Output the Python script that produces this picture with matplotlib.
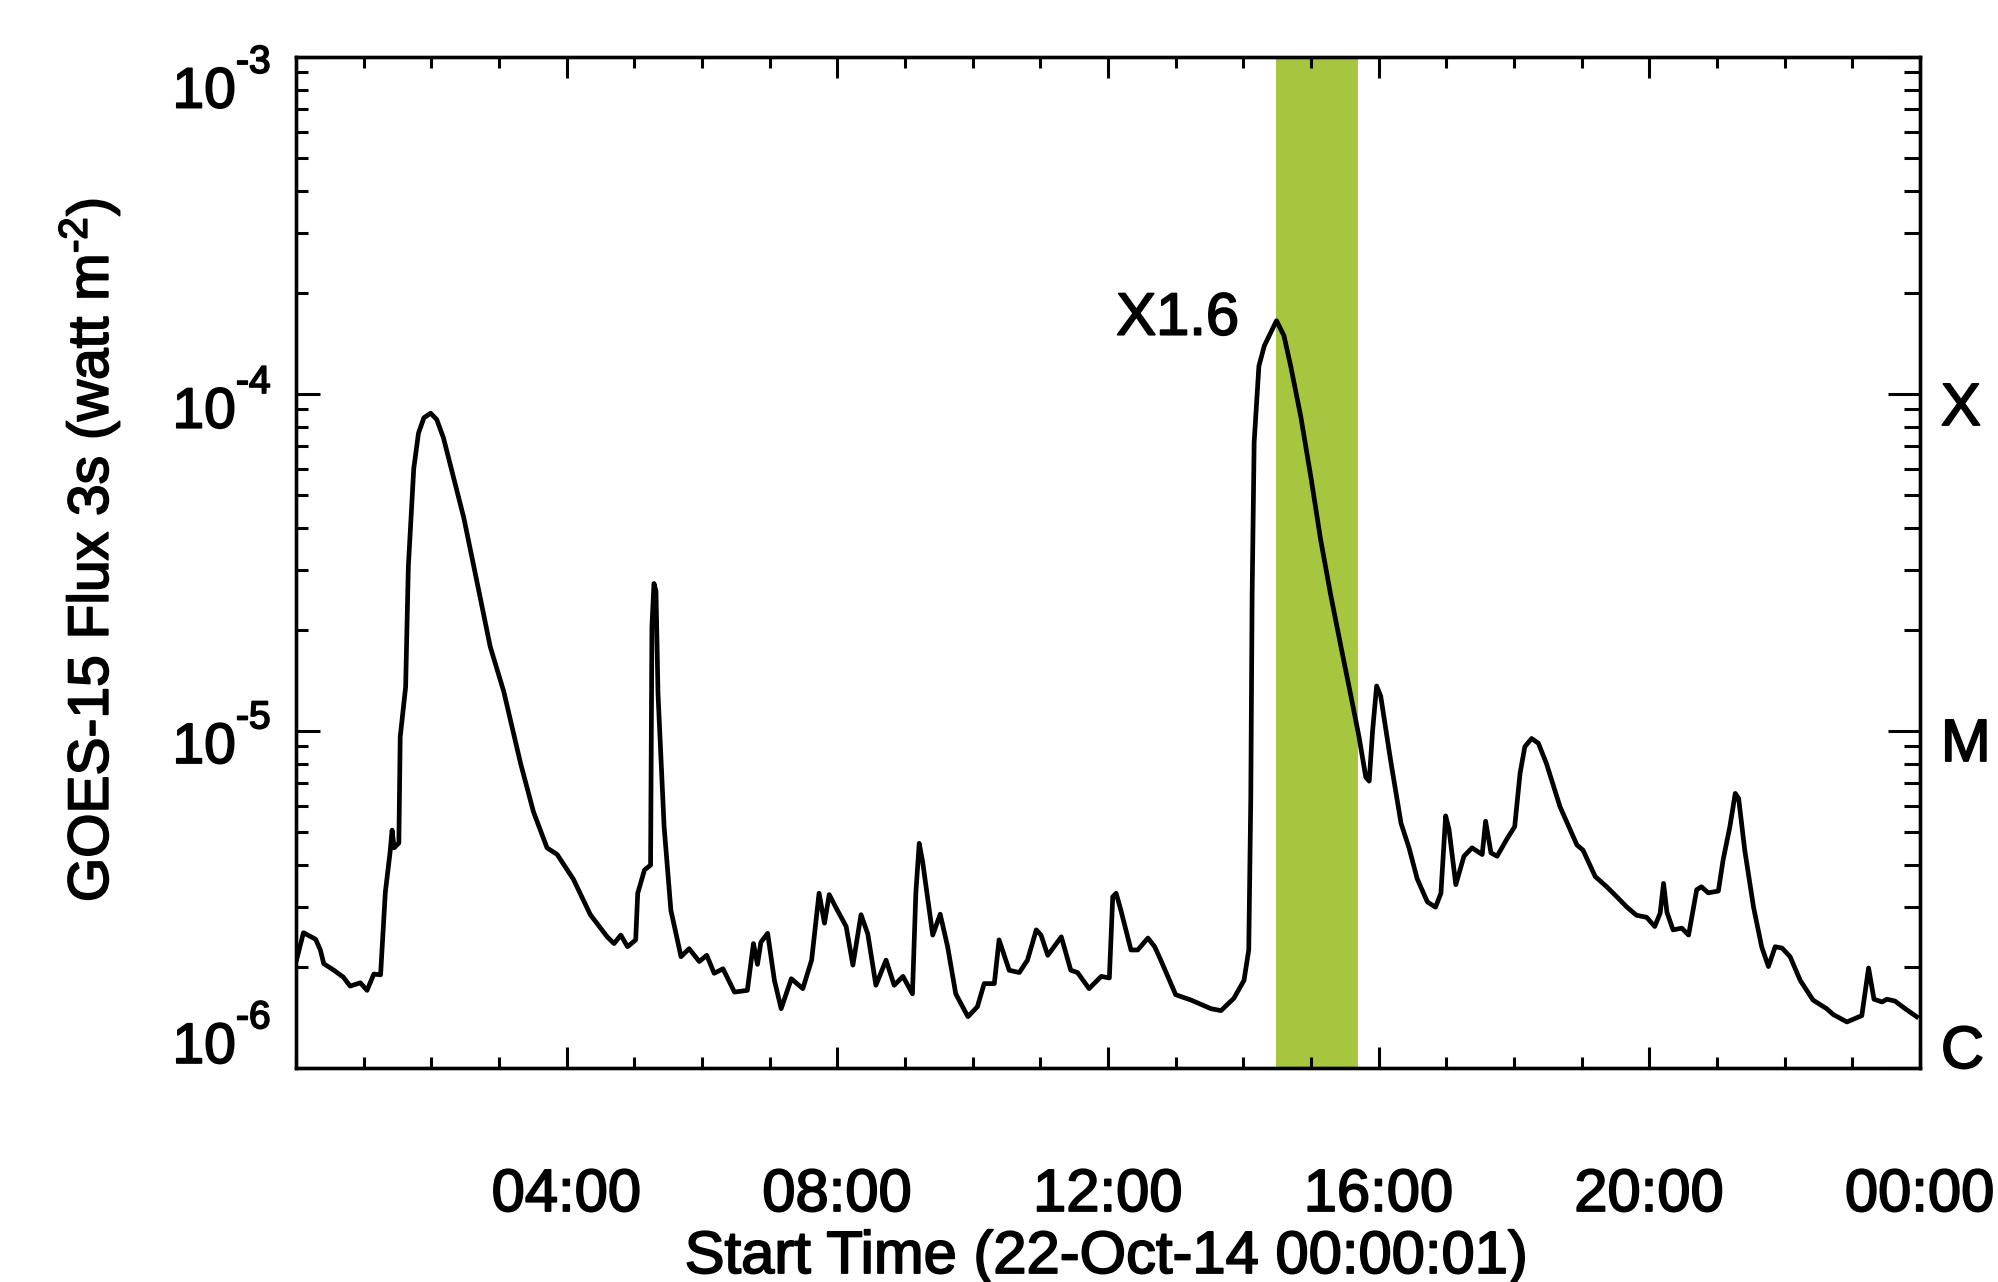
import matplotlib
matplotlib.use("Agg")
import matplotlib.pyplot as plt
import matplotlib.patheffects as pe
from matplotlib.ticker import LogLocator, NullFormatter, FixedLocator
from matplotlib.transforms import blended_transform_factory, ScaledTranslation

plt.rcParams['font.family'] = ['Liberation Sans', 'DejaVu Sans']
plt.rcParams['mathtext.fontset'] = 'custom'
plt.rcParams['mathtext.rm'] = 'Liberation Sans'
plt.rcParams['mathtext.it'] = 'Liberation Sans:italic'
plt.rcParams['mathtext.bf'] = 'Liberation Sans:bold'

# ---- data (hours since 22-Oct-14 00:00:01, GOES-15 flux in W m^-2) ----
hours = [0.01, 0.11, 0.29, 0.36, 0.41, 0.56, 0.70, 0.80, 0.95, 1.05, 1.15, 1.25,
         1.32, 1.39, 1.42, 1.45, 1.52, 1.54, 1.62, 1.66, 1.74, 1.81, 1.89, 1.99,
         2.08, 2.18, 2.33, 2.48, 2.67, 2.87, 3.07, 3.32, 3.51, 3.71, 3.86, 4.10,
         4.35, 4.60, 4.70, 4.80, 4.90, 5.02, 5.05, 5.15, 5.24, 5.26, 5.29, 5.32,
         5.35, 5.44, 5.54, 5.69, 5.81, 5.96, 6.07, 6.18, 6.31, 6.48, 6.67, 6.76,
         6.82, 6.87, 6.97, 7.07, 7.17, 7.32, 7.49, 7.62, 7.73, 7.81, 7.88, 8.00,
         8.13, 8.23, 8.35, 8.45, 8.57, 8.72, 8.84, 8.97, 9.11, 9.16, 9.21, 9.26,
         9.41, 9.52, 9.63, 9.75, 9.93, 10.07, 10.17, 10.32, 10.39, 10.54, 10.69,
         10.81, 10.94, 11.01, 11.11, 11.31, 11.45, 11.55, 11.72, 11.90, 12.02,
         12.07, 12.12, 12.19, 12.34, 12.44, 12.59, 12.69, 12.78, 13.00, 13.23,
         13.52, 13.67, 13.86, 14.01, 14.08, 14.11, 14.13, 14.16, 14.23, 14.31,
         14.49, 14.60, 14.70, 14.85, 15.00, 15.14, 15.29, 15.44, 15.59, 15.71,
         15.81, 15.86, 15.91, 15.97, 16.03, 16.18, 16.33, 16.45, 16.57, 16.72,
         16.84, 16.92, 16.99, 17.04, 17.14, 17.26, 17.38, 17.53, 17.58, 17.66,
         17.75, 17.90, 18.01, 18.09, 18.16, 18.26, 18.36, 18.48, 18.68, 18.93,
         19.02, 19.20, 19.37, 19.52, 19.67, 19.81, 19.96, 20.08, 20.16, 20.21,
         20.26, 20.35, 20.48, 20.58, 20.70, 20.77, 20.87, 21.02, 21.09, 21.19,
         21.27, 21.32, 21.41, 21.54, 21.66, 21.76, 21.86, 21.96, 22.08, 22.23,
         22.42, 22.62, 22.72, 22.92, 23.14, 23.24, 23.32, 23.44, 23.51, 23.63,
         23.78, 23.95]
flux = [2.1e-6, 2.52e-6, 2.41e-6, 2.24e-6, 2.04e-6, 1.95e-6, 1.86e-6, 1.75e-6,
        1.79e-6, 1.70e-6, 1.90e-6, 1.89e-6, 3.32e-6, 4.36e-6, 5.08e-6, 4.5e-6,
        4.65e-6, 9.6e-6, 1.35e-5, 3.07e-5, 6.0e-5, 7.65e-5, 8.5e-5, 8.77e-5,
        8.4e-5, 7.4e-5, 5.64e-5, 4.29e-5, 2.8e-5, 1.78e-5, 1.31e-5, 8.0e-6,
        5.75e-6, 4.5e-6, 4.3e-6, 3.63e-6, 2.85e-6, 2.45e-6, 2.34e-6, 2.48e-6,
        2.29e-6, 2.4e-6, 3.3e-6, 3.87e-6, 4.0e-6, 2.04e-5, 2.74e-5, 2.6e-5,
        1.29e-5, 5.2e-6, 2.94e-6, 2.14e-6, 2.26e-6, 2.07e-6, 2.16e-6, 1.91e-6,
        1.97e-6, 1.68e-6, 1.70e-6, 2.34e-6, 2.03e-6, 2.36e-6, 2.51e-6, 1.82e-6,
        1.50e-6, 1.84e-6, 1.72e-6, 2.09e-6, 3.3e-6, 2.69e-6, 3.27e-6, 2.94e-6,
        2.63e-6, 2.02e-6, 2.85e-6, 2.5e-6, 1.76e-6, 2.09e-6, 1.76e-6, 1.87e-6,
        1.66e-6, 3.3e-6, 4.64e-6, 4.1e-6, 2.48e-6, 2.86e-6, 2.29e-6, 1.66e-6,
        1.42e-6, 1.52e-6, 1.78e-6, 1.78e-6, 2.4e-6, 1.95e-6, 1.92e-6, 2.09e-6,
        2.57e-6, 2.48e-6, 2.16e-6, 2.45e-6, 1.95e-6, 1.92e-6, 1.72e-6, 1.87e-6,
        1.85e-6, 3.22e-6, 3.3e-6, 2.94e-6, 2.24e-6, 2.24e-6, 2.43e-6, 2.29e-6,
        2.09e-6, 1.65e-6, 1.59e-6, 1.50e-6, 1.48e-6, 1.61e-6, 1.82e-6, 2.24e-6,
        6.3e-6, 2.54e-5, 7.2e-5, 1.21e-4, 1.39e-4, 1.65e-4, 1.49e-4, 1.21e-4,
        8.55e-5, 5.64e-5, 3.72e-5, 2.54e-5, 1.79e-5, 1.27e-5, 9.6e-6, 7.29e-6,
        7.1e-6, 1.0e-5, 1.36e-5, 1.27e-5, 8.1e-6, 5.33e-6, 4.49e-6, 3.64e-6,
        3.11e-6, 3.0e-6, 3.3e-6, 5.6e-6, 5.1e-6, 3.5e-6, 4.25e-6, 4.5e-6,
        4.3e-6, 5.4e-6, 4.35e-6, 4.25e-6, 4.8e-6, 5.2e-6, 7.5e-6, 8.98e-6,
        9.5e-6, 9.2e-6, 8.0e-6, 5.96e-6, 4.59e-6, 4.43e-6, 3.7e-6, 3.45e-6,
        3.22e-6, 3.0e-6, 2.84e-6, 2.8e-6, 2.63e-6, 2.88e-6, 3.53e-6, 2.9e-6,
        2.57e-6, 2.6e-6, 2.48e-6, 3.38e-6, 3.45e-6, 3.31e-6, 3.35e-6, 4.14e-6,
        5.2e-6, 6.53e-6, 6.3e-6, 4.43e-6, 3.0e-6, 2.29e-6, 2.0e-6, 2.29e-6,
        2.27e-6, 2.14e-6, 1.82e-6, 1.59e-6, 1.5e-6, 1.44e-6, 1.37e-6, 1.43e-6,
        1.98e-6, 1.6e-6, 1.57e-6, 1.6e-6, 1.58e-6, 1.5e-6, 1.42e-6]

x_major = [4, 8, 12, 16, 20, 24]
x_labels = ['04:00', '08:00', '12:00', '16:00', '20:00', '00:00']
y_major = [1e-6, 1e-5, 1e-4, 1e-3]
y_exponents = ['-6', '-5', '-4', '-3']
y_label_levels = [10**-5.985, 10**-5.095, 10**-4.10, 10**-3.15]
class_labels = ['X', 'M', 'C']
class_levels = [10**-4.092, 10**-5.089, 10**-6.0]
band = (14.49, 15.70)
peak_label = 'X1.6'

heavy = [pe.withStroke(linewidth=1.3, foreground='black')]

# ---- figure ----
W, H = 1999, 1282
fig = plt.figure(figsize=(W / 100, H / 100), dpi=100)
L, R, T, B = 296, 1920, 57, 1068
ax = fig.add_axes([L / W, 1 - B / H, (R - L) / W, (B - T) / H])

ax.axvspan(band[0], band[1], color='#a6c640', lw=0, zorder=0)
ax.plot(hours, flux, color='black', lw=3.4, zorder=3, solid_joinstyle='round')

ax.set_yscale('log')
ax.set_ylim(1e-6, 1e-3)
ax.set_xlim(0, 24)

ax.set_xticks(x_major)
ax.set_xticklabels(x_labels)
ax.xaxis.set_minor_locator(FixedLocator(list(range(0, 25))))
ax.set_yticks(y_major)
ax.yaxis.set_minor_locator(LogLocator(base=10, subs=range(2, 10)))
ax.yaxis.set_minor_formatter(NullFormatter())

ax.tick_params(axis='x', which='major', direction='in', length=15, width=2.2,
               top=True, pad=72, labelsize=43)
ax.tick_params(axis='x', which='minor', direction='in', length=7.7, width=2.2,
               top=True)
ax.tick_params(axis='y', which='major', direction='in', length=17, width=2.2,
               right=False, labelleft=False)
ax.tick_params(axis='y', which='minor', direction='in', length=8.6, width=2.2,
               right=False)
for lab in ax.get_xticklabels():
    lab.set_path_effects(heavy)

ax2 = ax.twinx()
ax2.set_yscale('log')
ax2.set_ylim(1e-6, 1e-3)
ax2.set_yticks(y_major)
ax2.yaxis.set_minor_locator(LogLocator(base=10, subs=range(2, 10)))
ax2.yaxis.set_minor_formatter(NullFormatter())
ax2.tick_params(axis='y', which='major', direction='in', length=23, width=2.2,
                labelright=False)
ax2.tick_params(axis='y', which='minor', direction='in', length=11.5, width=2.2)

for a in (ax, ax2):
    for s in a.spines.values():
        s.set_linewidth(2.4)

tr = blended_transform_factory(ax.transAxes, ax.transData)

# y tick labels: "10" with a small raised exponent
xr = (236 - L) / (R - L)
sup_shift = ScaledTranslation(0, 25 / 72, fig.dpi_scale_trans)
for lev, ex in zip(y_label_levels, y_exponents):
    ax.text(xr, lev, '10', transform=tr, ha='right', va='baseline',
            fontsize=41, clip_on=False, path_effects=heavy)
    ax.text(xr, lev, ex, transform=tr + sup_shift, ha='left', va='baseline',
            fontsize=28, clip_on=False, path_effects=heavy)

for lab, lev in zip(class_labels, class_levels):
    ax.text(1.0129, lev, lab, transform=tr, ha='left', va='baseline',
            fontsize=43, clip_on=False, path_effects=heavy)

ax.text(13.94, 1.5e-4, peak_label, ha='right', va='baseline', fontsize=43,
        zorder=4, path_effects=heavy)

fig.text(89 / W, 1 - 550 / H, r'GOES-15 Flux 3s (watt m$^{\text{-}2}$)',
         rotation=90, ha='center', va='center', fontsize=41, path_effects=heavy)
fig.text(1107 / W, 1 - 1273 / H, 'Start Time (22-Oct-14 00:00:01)',
         ha='center', va='baseline', fontsize=43, path_effects=heavy)

fig.savefig('out.png', dpi=100)
